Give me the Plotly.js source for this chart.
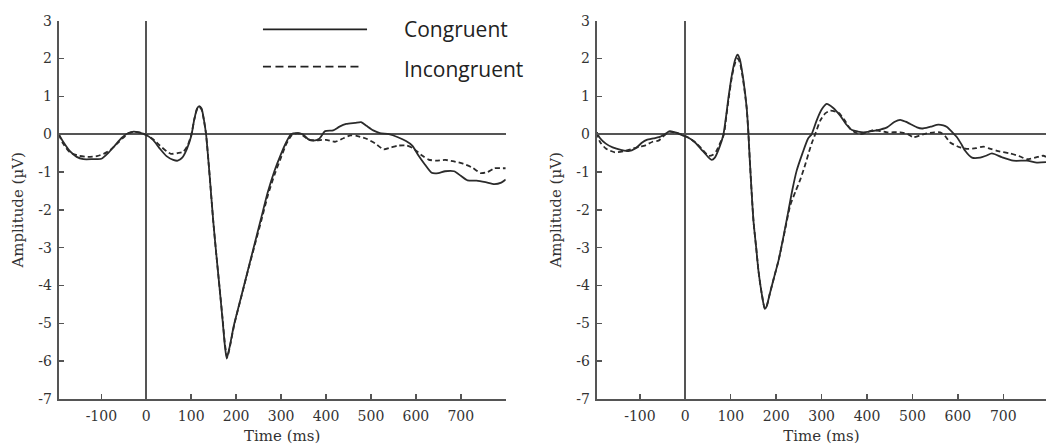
<!DOCTYPE html>
<html>
<head>
<meta charset="utf-8">
<script src="https://cdn.plot.ly/plotly-3.0.1.min.js"></script>
<style>html,body{margin:0;padding:0;background:#fff;}#chart{width:1046px;height:446px;}</style>
</head>
<body>
<div id="chart"></div>
<script>
// ---- Data ----
const seriesNames = ["Congruent", "Incongruent"];

// Left panel, congruent
const timeLC = [-195,-185,-170,-155,-140,-120,-100,-85,-70,-55,-40,-28,-15,0,15,30,45,60,70,80,90,100,107,113,118,123,128,133,141,149,156,163,170,175,179,185,195,210,225,240,255,270,285,300,312,322,335,348,360,372,385,398,416,430,445,465,478,490,505,520,540,560,578,592,605,620,635,650,665,685,700,715,735,755,775,790,800];
const ampLC  = [0.0,-0.2,-0.45,-0.6,-0.66,-0.66,-0.65,-0.5,-0.3,-0.1,0.03,0.07,0.04,-0.02,-0.15,-0.38,-0.58,-0.68,-0.70,-0.62,-0.4,-0.05,0.4,0.68,0.74,0.68,0.4,0.0,-1.1,-2.3,-3.2,-4.05,-4.95,-5.6,-5.93,-5.65,-5.05,-4.35,-3.65,-2.95,-2.25,-1.55,-0.98,-0.52,-0.2,0.0,0.03,0.0,-0.13,-0.17,-0.12,0.08,0.1,0.2,0.27,0.3,0.32,0.22,0.1,0.03,0.0,-0.08,-0.18,-0.3,-0.55,-0.8,-1.02,-1.03,-0.98,-0.98,-1.1,-1.22,-1.23,-1.27,-1.32,-1.28,-1.2];

// Left panel, incongruent
const timeLI = [-195,-185,-170,-150,-130,-110,-95,-80,-65,-50,-38,-25,-10,0,15,30,45,55,70,82,92,100,107,113,118,123,128,133,141,149,156,163,170,175,180,186,196,211,226,241,256,271,286,301,312,324,338,350,362,380,400,420,440,455,470,490,510,528,545,562,580,595,612,628,645,665,685,705,725,745,760,775,790,800];
const ampLI  = [0.0,-0.25,-0.48,-0.57,-0.6,-0.58,-0.52,-0.42,-0.25,-0.08,0.03,0.06,0.03,-0.02,-0.13,-0.3,-0.45,-0.52,-0.5,-0.47,-0.3,-0.02,0.4,0.66,0.72,0.65,0.38,0.0,-1.1,-2.3,-3.2,-4.05,-4.9,-5.55,-5.9,-5.62,-5.02,-4.32,-3.62,-2.95,-2.28,-1.6,-1.05,-0.58,-0.25,-0.02,0.03,-0.05,-0.15,-0.16,-0.15,-0.2,-0.1,-0.03,-0.05,-0.12,-0.25,-0.4,-0.35,-0.3,-0.3,-0.38,-0.55,-0.67,-0.7,-0.68,-0.72,-0.78,-0.88,-1.03,-1.0,-0.9,-0.9,-0.9];

// Right panel, congruent
const timeRC = [-195,-188,-175,-160,-140,-125,-110,-95,-85,-70,-58,-45,-34,-20,-5,5,20,35,50,58,65,75,84,90,95,103,110,115,120,127,135,139,142,150,156,161,168,175,179,186,195,205,217,227,236,245,258,270,278,289,300,311,325,341,355,367,380,392,410,421,444,460,473,485,495,510,521,540,557,568,576,588,598,607,616,631,649,662,675,697,722,752,774,794];
const ampRC  = [0.05,-0.1,-0.25,-0.35,-0.42,-0.45,-0.38,-0.22,-0.15,-0.11,-0.08,0.0,0.08,0.04,-0.04,-0.08,-0.2,-0.4,-0.6,-0.68,-0.62,-0.35,0.0,0.5,0.97,1.6,1.98,2.1,1.98,1.5,0.71,0.0,-0.7,-2.29,-3.0,-3.61,-4.2,-4.62,-4.55,-4.22,-3.8,-3.35,-2.65,-2.02,-1.45,-0.97,-0.5,-0.12,0.0,0.36,0.65,0.80,0.7,0.49,0.25,0.11,0.07,0.05,0.08,0.1,0.18,0.32,0.38,0.33,0.27,0.18,0.15,0.2,0.25,0.23,0.19,0.05,-0.08,-0.25,-0.44,-0.62,-0.62,-0.57,-0.51,-0.61,-0.70,-0.70,-0.75,-0.74];

// Right panel, incongruent
const timeRI = [-195,-188,-175,-155,-135,-115,-100,-89,-72,-59,-45,-34,-20,-5,5,20,35,51,60,68,76,85,90,95,103,110,115,120,127,135,139,142,150,156,161,168,175,179,186,195,205,218,231,243,253,262,271,278,286,297,308,319,337,350,363,373,385,400,414,430,444,473,490,502,515,531,548,561,572,583,605,623,640,656,670,686,715,735,752,770,788,794];
const ampRI  = [0.05,-0.2,-0.38,-0.48,-0.45,-0.38,-0.33,-0.3,-0.2,-0.17,-0.02,0.06,0.04,-0.02,-0.08,-0.2,-0.37,-0.57,-0.55,-0.45,-0.25,0.0,0.45,0.9,1.55,1.9,2.0,1.9,1.45,0.7,0.0,-0.7,-2.29,-3.0,-3.61,-4.2,-4.6,-4.55,-4.22,-3.8,-3.35,-2.62,-1.88,-1.5,-1.2,-0.88,-0.52,-0.25,0.0,0.36,0.55,0.62,0.57,0.38,0.14,0.05,0.0,0.05,0.11,0.08,0.05,0.05,0.0,-0.08,-0.04,0.02,0.05,0.05,-0.05,-0.22,-0.35,-0.39,-0.37,-0.33,-0.38,-0.44,-0.51,-0.58,-0.66,-0.62,-0.57,-0.6];

// Tick labels
const xTickVals = [-100,0,100,200,300,400,500,600,700];
const xTickText = ["-100","0","100","200","300","400","500","600","700"];
const yTickVals = [-7,-6,-5,-4,-3,-2,-1,0,1,2,3];
const yTickText = ["-7","-6","-5","-4","-3","-2","-1","0","1","2","3"];
const xTitle = "Time (ms)";
const yTitle = "Amplitude (µV)";

// ---- Styling ----
const curveColor = "#2b2b2b";
const axisColor = "#555555";
const textColor = "#333333";
const serif = "DejaVu Serif, Liberation Serif, serif";

function solid(x, y, xa, ya, name) {
  return {x: x, y: y, xaxis: xa, yaxis: ya, name: name, type: "scatter", mode: "lines",
    line: {color: curveColor, width: 1.8, shape: "spline", smoothing: 0.6}, showlegend: false};
}
function dashed(x, y, xa, ya, name) {
  return {x: x, y: y, xaxis: xa, yaxis: ya, name: name, type: "scatter", mode: "lines",
    line: {color: curveColor, width: 1.8, dash: "5px,3px", shape: "spline", smoothing: 0.6}, showlegend: false};
}

const traces = [
  solid(timeLC, ampLC, "x", "y", seriesNames[0]),
  dashed(timeLI, ampLI, "x", "y", seriesNames[1]),
  solid(timeRC, ampRC, "x2", "y2", seriesNames[0]),
  dashed(timeRI, ampRI, "x2", "y2", seriesNames[1])
];

function xAxis(domain, range, anchor) {
  return {domain: domain, range: range, anchor: anchor, showgrid: false,
    showline: true, linecolor: axisColor, linewidth: 2,
    ticks: "inside", ticklen: 5, tickwidth: 1.5, tickcolor: axisColor,
    tickmode: "array", tickvals: xTickVals, ticktext: xTickText,
    ticklabelstandoff: 3,
    tickfont: {family: serif, size: 14, color: textColor},
    zeroline: true, zerolinecolor: axisColor, zerolinewidth: 2,
    title: {text: xTitle, font: {family: serif, size: 15, color: textColor}, standoff: 8},
    automargin: false, fixedrange: true};
}
function yAxis(domain, anchor) {
  return {domain: domain, range: [-7, 3], anchor: anchor, showgrid: false,
    showline: true, linecolor: axisColor, linewidth: 2,
    ticks: "inside", ticklen: 5, tickwidth: 1.5, tickcolor: axisColor,
    tickmode: "array", tickvals: yTickVals, ticktext: yTickText,
    ticklabelstandoff: 2,
    tickfont: {family: serif, size: 14, color: textColor},
    zeroline: true, zerolinecolor: axisColor, zerolinewidth: 2,
    title: {text: yTitle, font: {family: serif, size: 15, color: textColor}, standoff: 11},
    automargin: false, fixedrange: true};
}

const yDom = [0.1054, 0.9536];
const legendFont = {family: "Open Sans, Noto Sans, sans-serif", size: 21, color: "#222222"};

const layout = {
  width: 1046, height: 446,
  margin: {l: 0, r: 0, t: 0, b: 0},
  paper_bgcolor: "#ffffff", plot_bgcolor: "#ffffff",
  showlegend: false,
  xaxis: xAxis([0.0561, 0.4835], [-195, 800], "y"),
  yaxis: yAxis(yDom, "x"),
  xaxis2: xAxis([0.5705, 1.0], [-195, 794], "y2"),
  yaxis2: yAxis(yDom, "x2"),
  shapes: [
    {type: "line", xref: "paper", yref: "paper", x0: 0.2514, x1: 0.3509, y0: 0.9343, y1: 0.9343,
      line: {color: "#222222", width: 1.8}},
    {type: "line", xref: "paper", yref: "paper", x0: 0.2514, x1: 0.3470, y0: 0.8505, y1: 0.8505,
      line: {color: "#222222", width: 1.8, dash: "8px,4.5px"}}
  ],
  annotations: [
    {text: seriesNames[0], xref: "paper", yref: "paper", x: 0.3843, y: 0.9343,
      xanchor: "left", yanchor: "middle", showarrow: false, font: legendFont},
    {text: seriesNames[1], xref: "paper", yref: "paper", x: 0.3843, y: 0.8453,
      xanchor: "left", yanchor: "middle", showarrow: false, font: legendFont}
  ]
};

Plotly.newPlot("chart", traces, layout, {displayModeBar: false, staticPlot: true});
</script>
</body>
</html>
